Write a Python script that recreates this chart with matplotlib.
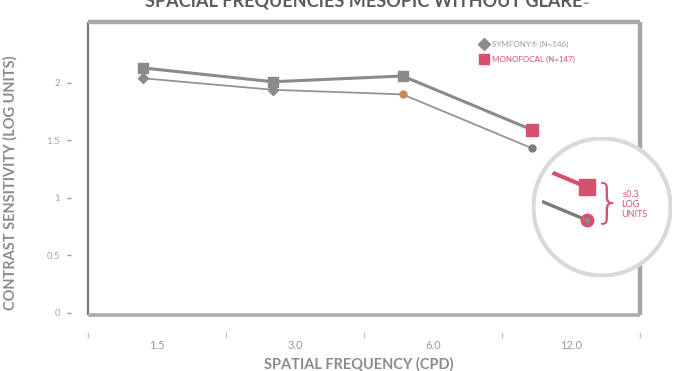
import matplotlib
matplotlib.use('Agg')
import matplotlib.pyplot as plt
from matplotlib.lines import Line2D
from matplotlib.patches import Circle

# data
categories = ['1.5', '3.0', '6.0', '12.0']
monofocal = [2.13, 2.01, 2.06, 1.59]
symfony = [2.04, 1.94, 1.90, 1.43]
y_ticks = [0, 0.5, 1, 1.5, 2]
y_tick_labels = ['0', '0.5', '1', '1.5', '2']

GREY = '#8a8a8a'
PINK = '#d6506f'
ORANGE = '#c8875a'
FONT = 'Lato'

fig = plt.figure(figsize=(6.78, 3.71), dpi=100)
W, H = 678, 371
ax = fig.add_axes([88 / W, 1 - 315 / H, (640 - 88) / W, (315 - 22) / H])

x = list(range(len(categories)))
# the scan places the points a bit left of the category centres
px = [i * 0.94 - 0.1 for i in x]

# monofocal (upper) line: grey squares, last point pink
ax.plot(px, monofocal, color=GREY, lw=2.2, zorder=3)
mono_colors = [GREY, GREY, GREY, PINK]
for xi, yi, c in zip(px, monofocal, mono_colors):
    ax.plot(xi, yi, marker='s', ms=7 if c == GREY else 8, color=c, zorder=4)

# symfony (lower) line
ax.plot(px, symfony, color='#949494', lw=1.3, zorder=3)
sym_markers = ['D', 'D', 'o', 'o']
sym_colors = [GREY, GREY, ORANGE, '#7d7d7d']
for xi, yi, m, c in zip(px, symfony, sym_markers, sym_colors):
    ax.plot(xi, yi, marker=m, ms=5, color=c, zorder=4)

ax.set_xlim(-0.5, len(categories) - 0.5)
ax.set_ylim(-0.02, 2.53)

# frame drawn by hand, spines pushed out to carry the ticks
for s in ['top', 'right']:
    ax.spines[s].set_visible(False)
ax.spines['left'].set_position(('outward', 12))
ax.spines['bottom'].set_position(('outward', 12))
ax.spines['left'].set_visible(False)
ax.spines['bottom'].set_visible(False)
frame = [([0, 0], [0, 1], '#777777', 1.6),
         ([0, 1], [1, 1], '#a6a6a6', 3.2),
         ([1, 1], [0, 1], '#a6a6a6', 3.2),
         ([0, 1], [0, 0], '#acacac', 2.6)]
for fx, fy, fc, flw in frame:
    ax.plot(fx, fy, color=fc, lw=flw, transform=ax.transAxes,
            clip_on=False, solid_capstyle='butt', zorder=2)

ax.set_yticks(y_ticks)
ax.set_yticklabels(y_tick_labels)
ax.tick_params(axis='y', length=3, width=1, color='#9a9a9a', pad=5,
               labelsize=7, labelcolor='#a8a8a8')
ax.set_xticks(x)
ax.set_xticklabels(categories, fontfamily=FONT)
ax.set_xticks([i - 0.5 for i in range(len(categories) + 1)], minor=True)
ax.tick_params(axis='x', which='major', length=0, pad=6, labelsize=8,
               labelcolor='#9a9a9a')
ax.tick_params(axis='x', which='minor', length=4, width=1, color='#c4c4c4')
for lbl in ax.get_yticklabels():
    lbl.set_fontfamily(FONT)

ax.set_ylabel('CONTRAST SENSITIVITY (LOG UNITS)', fontsize=10.5,
              fontweight='bold', color='#8c8c8c', fontfamily=FONT)
ax.yaxis.set_label_coords(-70 / 552, 0.45)
ax.set_xlabel('SPATIAL FREQUENCY (CPD)', fontsize=10.5, color='#8c8c8c',
              fontfamily=FONT, fontweight='bold')
ax.xaxis.set_label_coords(0.49, -0.145)

# legend
handles = [Line2D([], [], ls='none', marker='D', ms=6, color='#8c8c8c'),
           Line2D([], [], ls='none', marker='s', ms=7, color=PINK)]
leg = ax.legend(handles, ['SYMFONY® (N=146)', 'MONOFOCAL (N=147)'],
                loc='upper left', bbox_to_anchor=(388 / 552, 1 - 15 / 293),
                frameon=False, handlelength=1,
                handletextpad=0.5, labelspacing=0.9, borderpad=0,
                prop={'family': FONT, 'size': 5.8})
leg.get_texts()[0].set_color('#a0a0a0')
leg.get_texts()[1].set_color(PINK)

# title, cut off at the top edge as in the scan
title = fig.text(364 / W, 1 - 1 / H, 'SPACIAL FREQUENCIES MESOPIC WITHOUT GLARE',
                 ha='center', va='center', fontsize=13, fontweight='bold',
                 color='#5c5c5c', fontfamily=FONT)
ax.annotate('\u2013', xy=(1.0, 0.35), xycoords=title, fontsize=9,
            color=ORANGE, fontweight='bold', ha='left', va='center')

# magnifier inset around the 12.0 points
ins = fig.add_axes([532 / W, 1 - 277 / H, 140 / W, 140 / H])
ins.set_xlim(px[-1] - 0.222, px[-1] + 0.343)
ins.set_ylim(1.156, 1.832)
ins.axis('off')
ins.add_patch(Circle((0.5, 0.5), 0.49, transform=ins.transAxes,
                     facecolor='white', edgecolor='#d9d9d9', lw=3, zorder=0))
clip = Circle((0.5, 0.5), 0.43, transform=ins.transAxes)
l1, = ins.plot(px, monofocal, color=PINK, lw=3, zorder=2)
l2, = ins.plot(px, symfony, color='#7a7a7a', lw=2.4, zorder=2)
for ln in (l1, l2):
    ln.set_clip_path(clip)
ins.plot(px[-1], monofocal[-1], marker='s', ms=11, color=PINK, zorder=3)
ins.plot(px[-1], symfony[-1], marker='o', ms=9, color=PINK, zorder=3)
ins.plot(px[-1], symfony[-1], marker='o', ms=3, color='#8a8a8a', zorder=4)
ins.text(0.545, 0.53, '}', transform=ins.transAxes, fontsize=34,
         color=PINK, ha='center', va='center', fontweight='light',
         fontfamily='DejaVu Sans')
ins.text(0.635, 0.52, '\u22640.3\nLOG\nUNITS', transform=ins.transAxes,
         fontsize=6.5, color=PINK, ha='left', va='center',
         linespacing=1.15, fontfamily=FONT)

fig.savefig('out.png', dpi=100, facecolor='white')
